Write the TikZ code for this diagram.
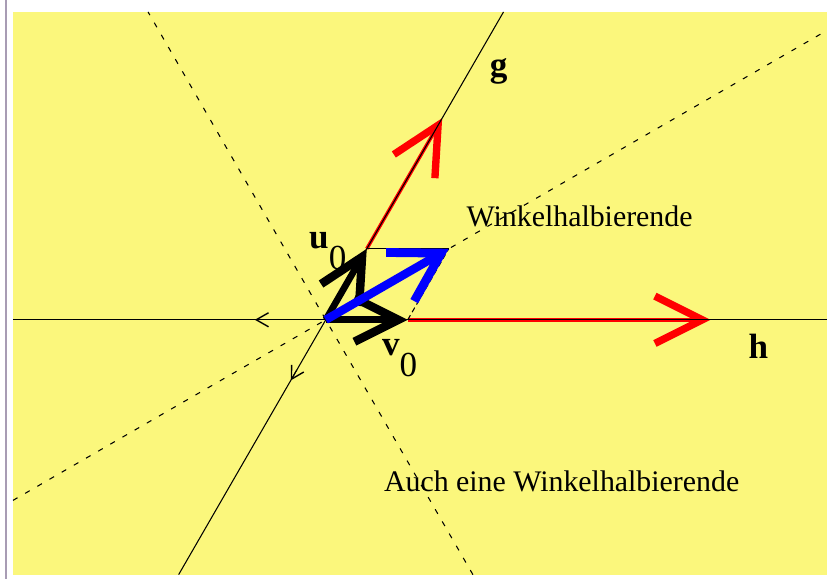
\documentclass[tikz,border=0pt]{standalone}
\usepackage{tikz}
\usetikzlibrary{
  arrows.meta,
  calc
}
\usepackage{fontspec}
\setmainfont{Liberation Serif}
\definecolor{wbyellow}{HTML}{FBF77C}
\definecolor{wbframe}{HTML}{A89CB4}
\definecolor{wbred}{HTML}{FF0000}
\definecolor{wbblue}{HTML}{0000FF}

\begin{document}
\begin{tikzpicture}[
  x=0.02cm, y=0.02cm,
  axis line/.style={draw, black, line width=0.6pt},
  bisector/.style={draw, black, line width=0.6pt, dash pattern=on 3pt off 5pt},
  unit vec/.style={draw, black, line width=3.8pt,
    -{Straight Barb[length=25pt, width=25pt, line width=4.8pt]}},
  sum vec/.style={draw, wbblue, line width=4.8pt,
    -{Straight Barb[length=27pt, width=32pt, line width=5pt]}},
  long vec/.style={draw, wbred, line width=2pt,
    -{Straight Barb[length=27pt, width=27pt, line width=4.2pt]}},
  small tip/.style={draw, black, line width=0.6pt,
    -{Straight Barb[length=7pt, width=8pt, line width=0.8pt]}},
  name label/.style={font=\fontsize{20}{22}\selectfont\bfseries, inner sep=0pt},
  vec label/.style={font=\fontsize{20}{22}\selectfont\bfseries, inner sep=0pt},
  text label/.style={font=\fontsize{17}{19}\selectfont, inner sep=0pt}
]

  \fill[white] (-326,-259) rectangle (502,320);
  \fill[wbframe] (-321,-259) rectangle (-319,320);
  \fill[wbyellow] (-313,-255) rectangle (502,308);

  \coordinate (O) at (0,0);
  \coordinate (hL) at (-313,0);
  \coordinate (hR) at (502,0);
  \coordinate (gT) at (60:355.7);
  \coordinate (gB) at (240:294.5);
  \coordinate (wT) at (30:579.7);
  \coordinate (wB) at (210:361.4);
  \coordinate (aT) at (120:355.7);
  \coordinate (aB) at (300:294.5);
  \coordinate (v) at (0:82);
  \coordinate (u) at (60:82);
  \coordinate (s) at ($(u)+(v)$);
  \coordinate (hEnd) at (0:385);
  \coordinate (gEnd) at (60:233);
  \coordinate (hTipA) at (-60,0);
  \coordinate (hTipB) at (-71,0);
  \coordinate (gTipA) at (240:58);
  \coordinate (gTipB) at (240:70);

  \path[bisector] (wB) -- (wT);
  \path[bisector] (aB) -- (aT);

  \path[long vec] (v) -- (hEnd);
  \path[long vec] (u) -- (gEnd);

  \path[axis line] (hL) -- (hR);
  \path[axis line] (gB) -- (gT);
  \path[small tip] (hTipA) -- (hTipB);
  \path[small tip] (gTipA) -- (gTipB);

  \draw[black, line width=0.6pt] (u) -- (s);
  \draw[black, line width=0.6pt, densely dashed] (v) -- (s);

  \path[unit vec] (O) -- (v);
  \path[unit vec] (O) -- (u);
  \path[sum vec] (O) -- (s);

  \node[name label] (gLab) at (173,249) {g};
  \node[name label] (hLab) at (433,-27) {h};
  \node[vec label] (uLab) at (2,69) {u\raisebox{-1.3ex}{\mdseries 0}};
  \node[vec label] (vLab) at (74,-38) {v\raisebox{-1.3ex}{\mdseries 0}};
  \node[text label] (wLab) at (254,103) {Winkelhalbierende};
  \node[text label] (aLab) at (236,-162) {Auch eine Winkelhalbierende};

\end{tikzpicture}
\end{document}
